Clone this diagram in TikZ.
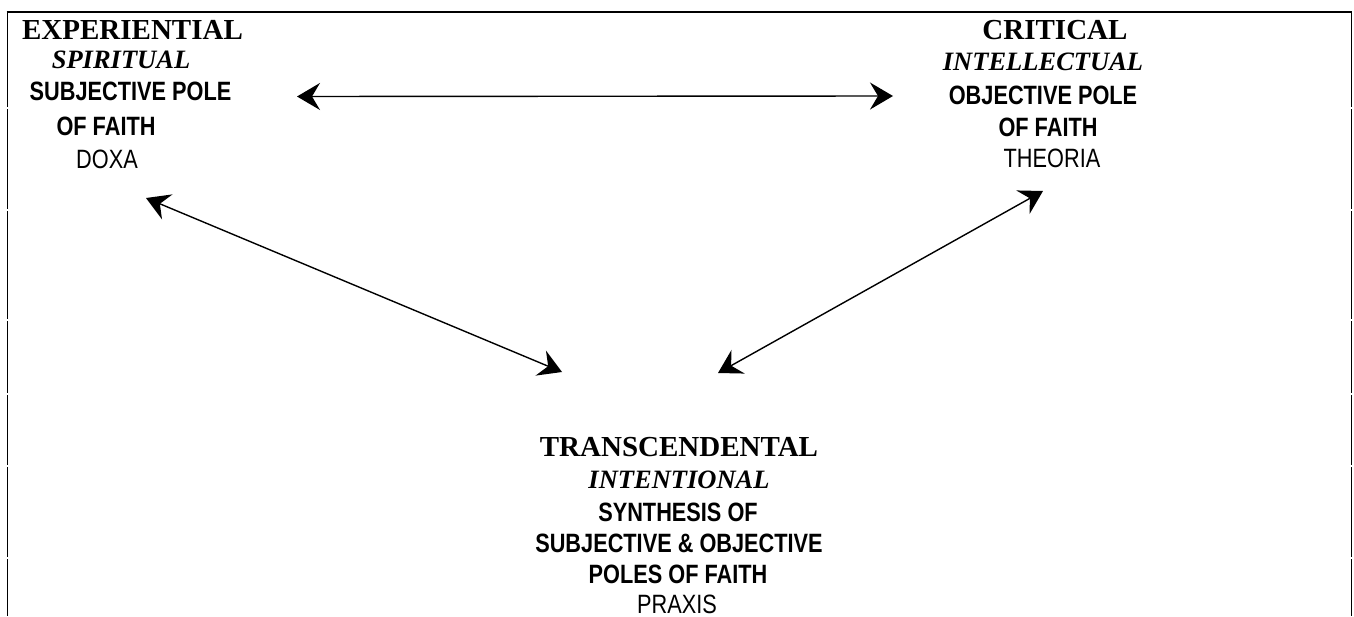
\documentclass[tikz,border=0pt]{standalone}
\usepackage{fontspec}
\setmainfont{Liberation Serif}
\newfontfamily\nsans[FakeStretch=0.82]{Liberation Sans}
\usetikzlibrary{arrows.meta}
\tikzset{
  lbl/.style={anchor=base, inner sep=0pt, text=black},
  serb/.style={lbl, font=\fontsize{29}{29}\selectfont\bfseries},
  seri/.style={lbl, font=\fontsize{26.5}{26.5}\selectfont\bfseries\itshape},
  sansb/.style={lbl, font=\nsans\fontsize{26.5}{26.5}\selectfont\bfseries},
  sansr/.style={lbl, font=\nsans\fontsize{26.5}{26.5}\selectfont},
  link/.style={line width=1.4pt, {Stealth[length=23pt,width=27pt,inset=8pt]}-{Stealth[length=23pt,width=27pt,inset=8pt]}},
  frame/.style={line width=1.6pt, line cap=butt}
}
\begin{document}
\begin{tikzpicture}[x=1pt,y=-1pt]
\useasboundingbox (0,0) rectangle (1354,616);
% frame
\draw[frame] (6.7,12) -- (1352,12);
\foreach \a/\b in {12/107,109/209,211/319,321/393,395/465,467/557,559/616}{
  \draw[frame] (7.5,\a) -- (7.5,\b);
  \draw[frame] (1351.5,\a) -- (1351.5,\b);
}
% left block
\node[serb] (e1) at (132.5,39) {EXPERIENTIAL};
\node[seri] (e2) at (121,68) {SPIRITUAL};
\node[sansb] (e3) at (130.5,100) {SUBJECTIVE POLE};
\node[sansb] (e4) at (106,135) {OF FAITH};
\node[sansr] (e5) at (107,168) {DOXA};
% right block
\node[serb] (c1) at (1055,39) {CRITICAL};
\node[seri] (c2) at (1043,70) {INTELLECTUAL};
\node[sansb] (c3) at (1043,104) {OBJECTIVE POLE};
\node[sansb] (c4) at (1048,136) {OF FAITH};
\node[sansr] (c5) at (1052,167) {THEORIA};
% bottom block
\node[serb] (t1) at (679,456) {TRANSCENDENTAL};
\node[seri] (t2) at (679,488) {INTENTIONAL};
\node[sansb] (t3) at (678,521) {SYNTHESIS OF};
\node[sansb] (t4) at (679,552) {SUBJECTIVE \& OBJECTIVE};
\node[sansb] (t5) at (678,583) {POLES OF FAITH};
\node[sansr] (t6) at (677,613) {PRAXIS};
% arrow ends
\coordinate (hl) at (297,96.5);
\coordinate (hr) at (893,96);
\coordinate (dl1) at (146,198);
\coordinate (dl2) at (562,372);
\coordinate (dr1) at (1043,191);
\coordinate (dr2) at (718,373);
\draw[link] (hl) -- (hr);
\draw[link] (dl1) -- (dl2);
\draw[link] (dr1) -- (dr2);
\end{tikzpicture}
\end{document}
